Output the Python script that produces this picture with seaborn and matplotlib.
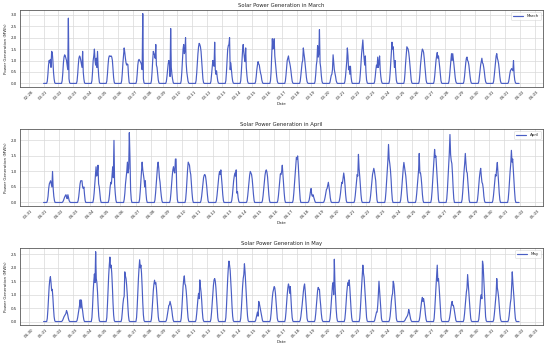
import numpy as np
import pandas as pd
import matplotlib
matplotlib.use("Agg")
import matplotlib.pyplot as plt
import matplotlib.dates as mdates
import seaborn as sns

# daylight hours for which values are listed (night readings are 0)
hours = list(range(6, 19))

march_start = "2023-03-01"
march_days = [
    [0.1,0.4,0.8,1.0,0.9,1.05,0.7,1.4,1.35,1.0,0.5,0.2,0.03],
    [0.12,0.45,0.9,1.15,1.25,1.2,1.1,1.0,0.8,0.6,2.85,0.2,0.03],
    [0.1,0.4,0.8,1.1,1.2,1.15,1.0,0.85,0.7,1.4,0.5,0.2,0.03],
    [0.12,0.5,1.0,1.2,1.5,1.0,0.8,1.1,0.7,1.4,0.7,0.3,0.05],
    [0.1,0.4,0.8,1.1,1.2,1.2,1.18,1.2,1.15,1.0,0.6,0.25,0.05],
    [0.12,0.45,0.9,1.2,1.55,1.35,1.1,0.9,0.8,0.85,0.82,0.35,0.05],
    [0.1,0.4,0.8,1.0,1.05,1.0,0.95,0.9,0.8,0.6,3.05,0.2,0.03],
    [0.12,0.5,1.0,1.4,1.3,1.25,1.1,1.7,0.8,0.7,0.4,0.15,0.03],
    [0.08,0.3,0.6,0.85,1.0,0.9,0.3,2.4,0.7,0.4,0.2,0.05,0.0],
    [0.12,0.5,1.0,1.5,1.7,1.3,1.4,2.0,0.9,0.5,0.3,0.1,0.02],
    [0.12,0.45,0.9,1.3,1.6,1.75,1.7,1.6,1.4,1.0,0.55,0.2,0.04],
    [0.1,0.4,0.75,1.0,0.85,0.75,1.8,0.6,0.4,0.55,0.3,0.1,0.02],
    [0.12,0.5,1.0,1.5,1.65,1.7,2.0,0.6,0.9,0.6,0.3,0.1,0.02],
    [0.12,0.5,1.0,1.45,1.7,1.35,1.1,0.95,1.55,0.7,0.35,0.1,0.02],
    [0.08,0.3,0.6,0.8,0.95,0.85,0.8,0.6,0.45,0.35,0.15,0.05,0.0],
    [0.12,0.5,1.2,1.95,1.5,1.6,1.95,1.2,0.9,0.6,0.3,0.1,0.02],
    [0.1,0.35,0.7,1.0,1.1,1.2,1.0,0.9,0.75,0.55,0.3,0.1,0.02],
    [0.1,0.35,0.65,0.9,1.0,1.55,1.3,1.1,0.8,0.5,0.25,0.08,0.02],
    [0.1,0.4,0.8,1.0,1.65,1.15,1.3,2.35,0.9,0.7,0.35,0.1,0.02],
    [0.05,0.2,0.35,0.4,0.6,1.25,0.95,0.6,0.45,0.3,0.12,0.04,0.0],
    [0.08,0.3,0.6,0.95,1.55,1.2,0.6,0.75,0.4,0.75,0.3,0.08,0.0],
    [0.12,0.45,0.9,1.3,1.6,1.9,1.4,1.1,0.8,1.2,0.5,0.15,0.03],
    [0.08,0.3,0.6,0.8,0.7,1.15,0.7,0.9,1.2,0.6,0.3,0.1,0.02],
    [0.12,0.45,0.9,1.3,1.8,1.5,1.6,1.1,0.7,1.0,0.5,0.15,0.03],
    [0.12,0.45,0.9,1.25,1.6,1.55,1.5,1.35,1.1,0.8,0.45,0.15,0.03],
    [0.1,0.4,0.8,1.1,1.35,1.5,1.45,1.35,1.1,0.8,0.45,0.15,0.03],
    [0.1,0.35,0.7,1.0,1.2,1.35,1.1,1.2,0.95,0.7,0.4,0.12,0.02],
    [0.1,0.35,0.7,1.0,1.3,1.0,1.3,1.05,0.8,0.5,0.25,0.08,0.02],
    [0.08,0.3,0.6,0.9,1.1,1.15,1.0,0.95,0.8,0.55,0.3,0.1,0.02],
    [0.08,0.3,0.55,0.8,0.95,1.1,0.9,0.85,0.7,0.5,0.25,0.08,0.02],
    [0.1,0.35,0.65,1.0,1.2,1.3,1.1,1.0,0.85,0.6,0.3,0.1,0.02],
    [0.06,0.2,0.4,0.55,0.6,0.65,0.6,0.55,1.0,0.4,0.15,0.04,0.0],
]

april_start = "2023-04-01"
april_days = [
    [0.06,0.2,0.45,0.6,0.65,0.7,0.6,0.5,1.0,0.45,0.2,0.06,0.0],
    [0.02,0.06,0.12,0.18,0.22,0.25,0.15,0.12,0.25,0.15,0.06,0.02,0.0],
    [0.06,0.2,0.4,0.6,0.7,0.7,0.7,0.5,0.45,0.5,0.25,0.06,0.0],
    [0.1,0.3,0.6,0.9,1.15,0.85,0.95,1.2,0.6,0.5,0.3,0.08,0.0],
    [0.08,0.25,0.5,0.65,0.6,0.9,1.15,0.8,2.0,0.6,0.3,0.08,0.0],
    [0.1,0.3,0.6,0.8,1.0,1.3,0.95,1.1,2.25,1.45,0.4,0.1,0.0],
    [0.1,0.35,0.7,1.0,1.3,1.05,0.9,0.75,0.5,0.7,0.3,0.08,0.0],
    [0.08,0.3,0.6,0.9,1.15,1.3,1.1,0.8,0.65,0.4,0.2,0.05,0.0],
    [0.08,0.3,0.6,0.85,1.05,1.15,1.0,0.95,1.4,1.4,0.5,0.1,0.0],
    [0.1,0.35,0.7,1.05,1.3,1.25,1.2,1.0,0.9,0.6,0.3,0.08,0.0],
    [0.06,0.2,0.4,0.62,0.8,0.88,0.9,0.85,0.7,0.5,0.25,0.06,0.0],
    [0.06,0.22,0.45,0.7,0.88,1.0,0.9,1.05,0.8,0.55,0.25,0.06,0.0],
    [0.06,0.22,0.45,0.7,0.85,0.95,0.85,1.05,0.3,0.35,0.15,0.04,0.0],
    [0.06,0.22,0.45,0.7,0.88,1.0,0.95,0.9,0.75,0.5,0.25,0.06,0.0],
    [0.06,0.22,0.45,0.7,0.88,1.0,1.05,0.98,0.82,0.55,0.25,0.06,0.0],
    [0.06,0.22,0.45,0.7,0.92,0.9,1.0,1.2,0.9,0.6,0.3,0.08,0.0],
    [0.08,0.3,0.6,0.95,1.25,1.45,1.4,1.5,1.2,0.8,0.4,0.1,0.0],
    [0.02,0.08,0.2,0.35,0.45,0.25,0.2,0.25,0.18,0.1,0.04,0.0,0.0],
    [0.02,0.08,0.18,0.3,0.42,0.45,0.55,0.65,0.5,0.35,0.15,0.04,0.0],
    [0.04,0.15,0.3,0.5,0.65,0.62,0.8,0.95,0.8,0.55,0.25,0.06,0.0],
    [0.06,0.22,0.45,0.7,0.9,0.85,1.55,1.1,0.85,0.55,0.25,0.06,0.0],
    [0.06,0.22,0.45,0.7,0.9,1.0,1.1,1.0,0.85,0.7,0.35,0.08,0.0],
    [0.1,0.35,0.7,1.05,1.35,1.87,1.4,1.25,1.05,0.75,0.35,0.08,0.0],
    [0.08,0.28,0.55,0.85,1.1,1.29,1.15,1.0,0.85,0.6,0.3,0.07,0.0],
    [0.08,0.28,0.55,0.85,1.05,1.58,0.95,0.95,0.8,0.55,0.25,0.06,0.0],
    [0.1,0.35,0.7,1.05,1.35,1.71,1.45,1.5,1.15,0.8,0.4,0.1,0.0],
    [0.12,0.4,0.8,1.2,1.6,2.19,1.55,1.35,1.25,0.9,0.45,0.12,0.0],
    [0.1,0.35,0.7,1.0,1.25,1.58,1.25,1.0,0.95,0.65,0.3,0.08,0.0],
    [0.08,0.28,0.55,0.8,0.98,1.1,0.85,0.65,0.6,0.45,0.2,0.05,0.0],
    [0.06,0.22,0.45,0.7,0.9,0.85,1.1,1.29,0.95,0.65,0.3,0.08,0.0],
    [0.1,0.35,0.7,1.0,1.25,1.68,1.3,1.4,1.05,0.7,0.35,0.08,0.0],
]

may_start = "2023-05-01"
may_days = [
    [0.12,0.45,0.9,1.3,1.55,1.67,1.45,1.15,1.2,0.9,0.5,0.18,0.03],
    [0.02,0.06,0.12,0.18,0.22,0.26,0.3,0.41,0.35,0.25,0.12,0.04,0.0],
    [0.04,0.15,0.3,0.45,0.6,0.81,0.5,0.8,0.55,0.4,0.2,0.06,0.0],
    [0.15,0.55,1.1,1.5,1.77,1.45,2.6,1.6,1.45,1.1,0.6,0.2,0.03],
    [0.15,0.6,1.2,1.7,2.1,2.4,2.0,2.1,1.8,1.3,0.7,0.25,0.04],
    [0.1,0.35,0.65,0.85,0.94,1.85,1.7,1.6,1.35,1.0,0.55,0.2,0.03],
    [0.15,0.55,1.1,1.6,2.0,2.3,2.0,2.1,1.8,1.3,0.7,0.25,0.04],
    [0.1,0.4,0.8,1.15,1.4,1.54,1.4,1.45,1.25,0.9,0.5,0.18,0.03],
    [0.04,0.15,0.3,0.45,0.6,0.62,0.75,0.65,0.55,0.4,0.2,0.06,0.0],
    [0.12,0.45,0.9,1.3,1.55,1.7,1.4,1.35,1.15,0.85,0.45,0.15,0.02],
    [0.08,0.3,0.6,0.85,1.05,0.85,1.55,1.3,1.1,0.8,0.4,0.12,0.02],
    [0.1,0.35,0.7,1.05,1.35,1.55,1.6,1.5,1.25,0.9,0.5,0.15,0.02],
    [0.15,0.55,1.1,1.6,2.0,2.25,2.1,1.9,1.5,1.05,0.55,0.2,0.03],
    [0.12,0.45,0.9,1.3,1.6,1.75,2.15,1.85,1.45,1.0,0.55,0.2,0.03],
    [0.04,0.15,0.28,0.35,0.2,0.75,0.68,0.55,0.4,0.3,0.15,0.05,0.0],
    [0.08,0.3,0.6,0.9,1.1,1.2,1.3,1.25,1.05,0.75,0.4,0.12,0.02],
    [0.1,0.35,0.7,1.0,1.25,1.4,1.3,1.05,1.3,0.85,0.45,0.15,0.02],
    [0.05,0.18,0.38,0.6,0.85,1.1,1.3,1.4,1.15,0.8,0.4,0.12,0.02],
    [0.08,0.3,0.6,0.9,1.15,1.27,1.2,1.2,0.85,0.6,0.3,0.1,0.02],
    [0.1,0.35,0.7,1.05,1.35,1.45,1.0,2.32,1.4,0.9,0.45,0.15,0.02],
    [0.1,0.35,0.7,1.05,1.3,1.45,1.35,1.55,1.25,0.85,0.45,0.15,0.02],
    [0.12,0.45,0.9,1.3,1.7,2.1,1.8,1.65,1.3,0.9,0.5,0.15,0.02],
    [0.04,0.15,0.25,0.35,0.35,0.6,1.0,1.5,1.15,0.8,0.4,0.12,0.02],
    [0.06,0.2,0.45,0.75,0.95,1.05,1.5,1.4,1.15,0.8,0.4,0.12,0.02],
    [0.02,0.05,0.1,0.14,0.18,0.22,0.3,0.45,0.35,0.22,0.1,0.03,0.0],
    [0.05,0.18,0.38,0.6,0.8,0.9,0.75,0.85,0.7,0.5,0.25,0.08,0.0],
    [0.12,0.45,0.9,1.3,1.7,2.1,1.5,1.6,1.3,0.9,0.5,0.15,0.02],
    [0.04,0.15,0.3,0.5,0.65,0.75,0.6,0.6,0.5,0.35,0.18,0.05,0.0],
    [0.08,0.28,0.55,0.85,1.1,1.25,1.75,1.4,1.1,0.75,0.4,0.12,0.02],
    [0.08,0.3,0.6,0.9,1.0,0.85,2.25,2.1,1.6,1.1,0.55,0.18,0.03],
    [0.06,0.25,0.5,0.8,1.05,1.6,1.25,1.1,0.9,0.6,0.3,0.1,0.02],
    [0.06,0.22,0.45,0.7,0.85,1.3,1.85,1.45,1.15,0.8,0.4,0.12,0.02],
]

months = ["March", "April", "May"]
starts = [march_start, april_start, may_start]
day_lists = [march_days, april_days, may_days]


def build(start, days):
    idx = pd.date_range(start, periods=len(days) * 24, freq="h")
    vals = np.zeros(len(idx))
    for d, day in enumerate(days):
        for h, v in zip(hours, day):
            vals[d * 24 + h] = v
    return pd.DataFrame({"Date": idx, "Power": vals})


sns.set_theme(style="whitegrid", rc={
    "axes.edgecolor": "0.35", "axes.linewidth": 0.6,
    "grid.color": "0.85", "grid.linewidth": 0.5,
})
plt.rcParams["font.family"] = ["DejaVu Sans"]

fig, axes = plt.subplots(3, 1, figsize=(5.5, 3.48), dpi=100)
fig.subplots_adjust(left=0.036, right=0.987, top=0.971, bottom=0.066, hspace=0.55)

line_color = "#4a5ec4"
for ax, name, start, days in zip(axes, months, starts, day_lists):
    df = build(start, days)
    sns.lineplot(data=df, x="Date", y="Power", ax=ax, color=line_color,
                 linewidth=0.85, label=name)
    ax.set_title(f"Solar Power Generation in {name}", fontsize=3.8, pad=2)
    ax.set_xlabel("Date", fontsize=3.0, labelpad=1)
    ax.set_ylabel("Power Generation (MWh)", fontsize=2.9, labelpad=1.5)
    ax.xaxis.set_major_locator(mdates.DayLocator())
    ax.xaxis.set_major_formatter(mdates.DateFormatter("%m-%d"))
    ax.tick_params(axis="both", labelsize=2.9, pad=1, length=1.2, width=0.4)
    plt.setp(ax.get_xticklabels(), rotation=45)
    leg = ax.legend(loc="upper right", fontsize=2.9, frameon=True,
                    handlelength=2.5, borderpad=0.5)
    leg.get_frame().set_linewidth(0.4)

fig.savefig("out.png", dpi=100)
